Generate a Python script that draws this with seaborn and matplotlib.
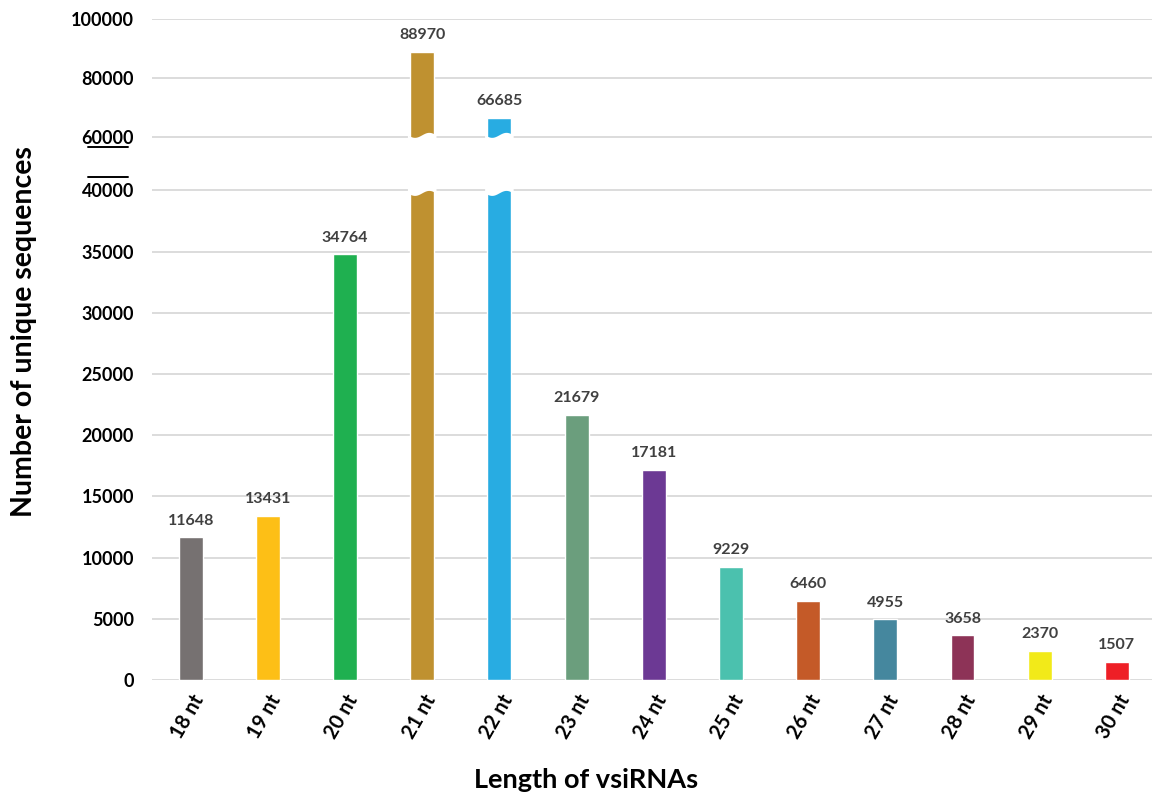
import numpy as np
import pandas as pd
import matplotlib
matplotlib.use("Agg")
import matplotlib.pyplot as plt
import matplotlib.transforms as mtransforms
import seaborn as sns

# data
lengths = ["18 nt", "19 nt", "20 nt", "21 nt", "22 nt", "23 nt", "24 nt",
           "25 nt", "26 nt", "27 nt", "28 nt", "29 nt", "30 nt"]
counts = [11648, 13431, 34764, 88970, 66685, 21679, 17181,
          9229, 6460, 4955, 3658, 2370, 1507]
colors = ["#767171", "#FDBF16", "#1FB050", "#BF9130", "#28ACE2", "#6B9E7D",
          "#6C3994", "#4BC1AE", "#C45A28", "#45879E", "#8D3357", "#F2EA19",
          "#EE1F26"]
yticks = [0, 5000, 10000, 15000, 20000, 25000, 30000, 35000, 40000,
          60000, 80000, 100000]
broken = ["21 nt", "22 nt"]

df = pd.DataFrame({"length": lengths, "count": counts})

##########
# broken axis scale: 0-40000 normal, compressed above
##########
xp = np.array([0, 40000, 60000, 100000], dtype=float)
fp = np.array([0, 40000, 44335, 53988], dtype=float)

def forward(v):
    v = np.asarray(v, dtype=float)
    hi = np.interp(v, xp, fp)
    top = fp[-1] + (v - xp[-1]) * (fp[-1] - fp[-2]) / (xp[-1] - xp[-2])
    return np.where(v <= 40000, v, np.where(v <= 100000, hi, top))

def inverse(d):
    d = np.asarray(d, dtype=float)
    hi = np.interp(d, fp, xp)
    top = xp[-1] + (d - fp[-1]) * (xp[-1] - xp[-2]) / (fp[-1] - fp[-2])
    return np.where(d <= 40000, d, np.where(d <= fp[-1], hi, top))

sns.set_theme(style="white")
plt.rcParams["font.family"] = ["Lato", "DejaVu Sans"]

fig = plt.figure(figsize=(11.52, 8), dpi=100)
ax = fig.add_axes([0.132, 0.15, 0.871, 0.826])
ax.set_yscale("function", functions=(forward, inverse))

bar_w = 0.31
sns.barplot(data=df, x="length", y="count", hue="length", palette=colors,
            legend=False, width=bar_w, saturation=1, ax=ax, zorder=3)

ax.set_ylim(0, 100000)
ax.set_xlim(-0.5, len(lengths) - 0.5)
ax.set_yticks(yticks)
ax.set_yticklabels([str(t) for t in yticks], fontsize=13, fontweight="bold",
                   color="black")
ax.yaxis.grid(True, color="#D9D9D9", linewidth=1.3, zorder=0)
ax.set_axisbelow(True)
for s in ax.spines.values():
    s.set_visible(False)
ax.tick_params(axis="x", length=0, pad=8)
ax.tick_params(axis="y", length=0, pad=13)

plt.setp(ax.get_xticklabels(), rotation=60, ha="right", rotation_mode="anchor",
         fontsize=14.5, fontweight="bold", color="black")

# value labels
for i, v in enumerate(counts):
    ax.annotate(str(v), (i, v), xytext=(0, 7), textcoords="offset points",
                ha="center", va="bottom", fontsize=11.5, fontweight="bold",
                color="#404040")

# white wavy break over the tall bars
px_per_d = 489 / 40000.0
def pix_to_val(p):
    return float(inverse((680 - p) / px_per_d))

xs = np.linspace(0, 1, 40)
for name in broken:
    i = lengths.index(name)
    x0, x1 = i - bar_w / 2 - 0.03, i + bar_w / 2 + 0.03
    xx = x0 + xs * (x1 - x0)
    wave = 2.5 * np.sin(xs * 2 * np.pi)
    top = [pix_to_val(136 + w) for w in wave]
    bot = [pix_to_val(194 + w) for w in wave]
    poly_x = np.concatenate([xx, xx[::-1]])
    poly_y = np.concatenate([top, bot[::-1]])
    ax.fill(poly_x, poly_y, color="white", zorder=5, linewidth=0)

# break marks next to tick labels
trans = mtransforms.blended_transform_factory(ax.transAxes, ax.transData)
for p in [148, 178]:
    yv = pix_to_val(p)
    ax.plot([-0.064, -0.024], [yv, yv], color="black", linewidth=1.4,
            transform=trans, clip_on=False)

ax.set_xlabel("Length of vsiRNAs", fontsize=19.5, fontweight="bold",
              color="black")
ax.xaxis.set_label_coords(0.433, -0.133)
ax.set_ylabel("Number of unique sequences", fontsize=20.5, fontweight="bold",
              color="black")
ax.yaxis.set_label_coords(-0.115, 0.528)

fig.savefig("out.png", dpi=100)
